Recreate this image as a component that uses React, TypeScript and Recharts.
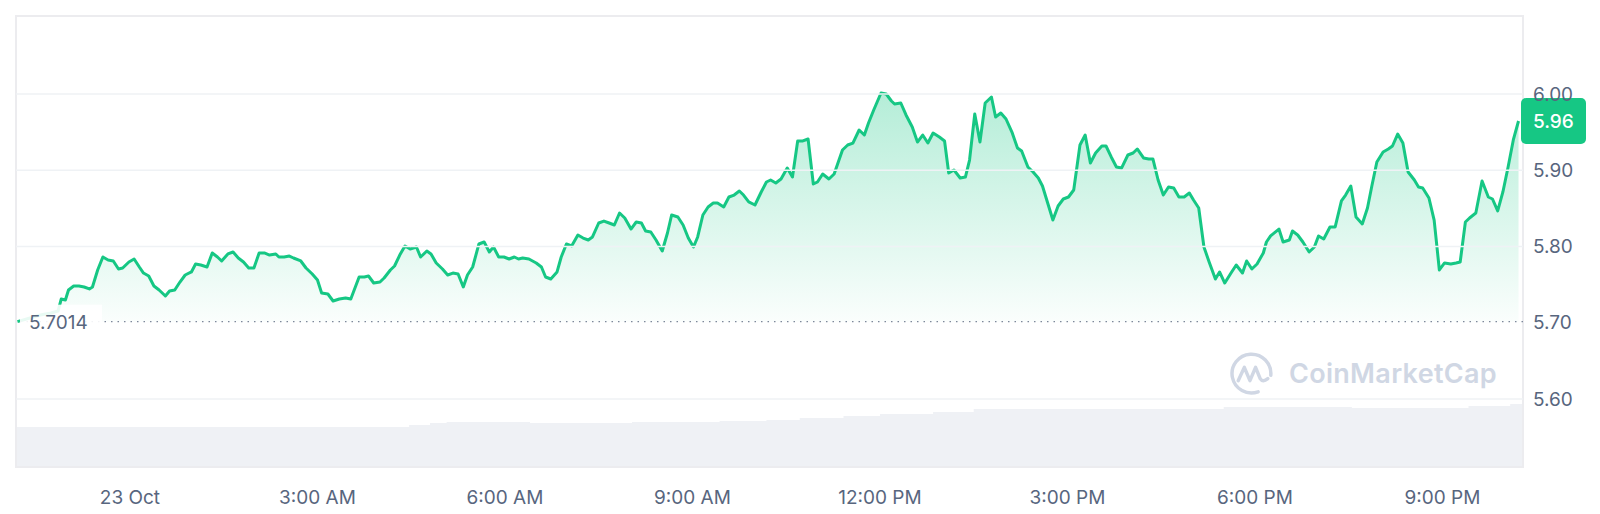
import React from "react";
import { ComposedChart, Area, XAxis, YAxis, ReferenceLine, ReferenceArea } from "recharts";

// [minutes since 23 Oct 00:00, price USD]
const pricePoints: [number, number][] = [
  [-108, 5.7014], [-96, 5.7062], [-86, 5.7102], [-76, 5.7128], [-69, 5.7154], [-66, 5.7311], [-62, 5.7298], [-59, 5.7429], [-54, 5.7482],
  [-49, 5.7482], [-44, 5.7469], [-39, 5.7443], [-36, 5.7469], [-31, 5.7692], [-26, 5.7862], [-21, 5.7823], [-16, 5.781],
  [-11, 5.7705], [-7, 5.7718], [-1, 5.7797], [4, 5.7836], [9, 5.7731], [13, 5.7652], [18, 5.7613], [23, 5.7482],
  [28, 5.7429], [34, 5.7351], [38, 5.7416], [43, 5.7429], [48, 5.7534], [53, 5.7626], [59, 5.7666], [63, 5.777],
  [68, 5.7757], [74, 5.7731], [79, 5.7915], [84, 5.7862], [88, 5.781], [94, 5.7902], [99, 5.7928], [104, 5.7849],
  [109, 5.7797], [114, 5.7718], [119, 5.7718], [124, 5.7915], [129, 5.7915], [134, 5.7888], [140, 5.7902], [143, 5.7862],
  [148, 5.7862], [153, 5.7875], [157, 5.7849], [164, 5.781], [169, 5.7718], [175, 5.7639], [180, 5.7561], [184, 5.739],
  [190, 5.7377], [195, 5.7285], [201, 5.7311], [207, 5.7325], [212, 5.7311], [220, 5.76], [225, 5.76], [229, 5.7613],
  [234, 5.7521], [240, 5.7534], [244, 5.7587], [250, 5.7692], [254, 5.7744], [259, 5.7888], [264, 5.8007], [269, 5.7967],
  [275, 5.7993], [279, 5.7862], [285, 5.7941], [289, 5.7902], [294, 5.7784], [300, 5.7705], [305, 5.7626], [310, 5.7652],
  [315, 5.7639], [320, 5.7469], [324, 5.7626], [329, 5.7731], [335, 5.8033], [340, 5.8059], [345, 5.7928], [349, 5.7993],
  [354, 5.7862], [359, 5.7862], [364, 5.7836], [369, 5.7862], [373, 5.7836], [377, 5.7849], [383, 5.7836], [390, 5.7784],
  [395, 5.7731], [399, 5.76], [404, 5.7574], [410, 5.7666], [414, 5.7862], [419, 5.8033], [424, 5.8007], [430, 5.8151],
  [435, 5.8111], [440, 5.8085], [444, 5.8125], [450, 5.8308], [455, 5.8334], [460, 5.8308], [465, 5.8282], [470, 5.8439],
  [475, 5.8374], [481, 5.8229], [486, 5.8321], [491, 5.8308], [495, 5.8203], [500, 5.819], [505, 5.8085], [511, 5.7941],
  [516, 5.8177], [520, 5.8413], [526, 5.8387], [531, 5.8282], [536, 5.8111], [541, 5.7993], [545, 5.8125], [550, 5.8413],
  [555, 5.8518], [560, 5.857], [564, 5.857], [570, 5.8518], [575, 5.8649], [580, 5.8675], [585, 5.8728], [589, 5.8675],
  [594, 5.8584], [600, 5.8544], [606, 5.8715], [611, 5.8846], [615, 5.8872], [620, 5.8833], [625, 5.8885], [631, 5.903],
  [636, 5.8911], [641, 5.9384], [646, 5.9384], [651, 5.941], [656, 5.882], [660, 5.8846], [665, 5.8951], [671, 5.8885],
  [676, 5.8951], [680, 5.9108], [684, 5.9266], [689, 5.9331], [694, 5.9357], [700, 5.9528], [705, 5.9462], [709, 5.962],
  [714, 5.979], [721, 6.0013], [726, 6.0], [731, 5.9908], [734, 5.9869], [740, 5.9882], [745, 5.9725], [751, 5.9567],
  [756, 5.937], [761, 5.9462], [766, 5.9357], [771, 5.9489], [777, 5.9436], [782, 5.9384], [786, 5.8964], [791, 5.9003],
  [797, 5.8898], [802, 5.8911], [806, 5.9134], [811, 5.9738], [816, 5.937], [821, 5.9882], [827, 5.9961], [831, 5.9698],
  [836, 5.9751], [841, 5.9672], [847, 5.9489], [852, 5.9292], [856, 5.9252], [862, 5.9043], [867, 5.8977], [872, 5.8898],
  [876, 5.8793], [881, 5.857], [886, 5.8347], [891, 5.8531], [896, 5.8623], [901, 5.8649], [906, 5.8741], [912, 5.9331],
  [917, 5.9462], [922, 5.9095], [927, 5.9226], [933, 5.9318], [937, 5.9318], [942, 5.9174], [947, 5.9043], [952, 5.903],
  [958, 5.92], [963, 5.9226], [967, 5.9279], [973, 5.9161], [978, 5.9148], [982, 5.9148], [987, 5.8872], [992, 5.8675],
  [997, 5.878], [1002, 5.8767], [1007, 5.8649], [1012, 5.8649], [1017, 5.8702], [1021, 5.861], [1026, 5.8505], [1031, 5.7993],
  [1036, 5.7797], [1042, 5.7574], [1046, 5.7666], [1051, 5.7521], [1057, 5.7652], [1062, 5.7757], [1068, 5.7652], [1072, 5.781],
  [1077, 5.7705], [1082, 5.777], [1088, 5.7915], [1091, 5.8059], [1095, 5.8138], [1103, 5.8229], [1107, 5.8059], [1113, 5.8085],
  [1116, 5.8203], [1121, 5.8151], [1126, 5.8059], [1132, 5.7928], [1137, 5.7993], [1141, 5.8138], [1146, 5.8098], [1152, 5.8256],
  [1157, 5.8256], [1163, 5.8597], [1167, 5.8675], [1172, 5.8793], [1177, 5.8387], [1183, 5.8295], [1188, 5.8505], [1192, 5.878],
  [1197, 5.9108], [1203, 5.9239], [1208, 5.9279], [1212, 5.9318], [1217, 5.9475], [1222, 5.9357], [1227, 5.8977], [1233, 5.8872],
  [1237, 5.878], [1241, 5.8767], [1247, 5.8636], [1252, 5.8347], [1257, 5.7692], [1262, 5.7784], [1268, 5.777], [1273, 5.7784],
  [1277, 5.7797], [1282, 5.8321], [1286, 5.8374], [1292, 5.8439], [1298, 5.8859], [1304, 5.8649], [1308, 5.8623], [1313, 5.8466],
  [1318, 5.8715], [1323, 5.9043], [1328, 5.9397], [1333, 5.9646],
];

// [minutes since 23 Oct 00:00, 24h volume (M, relative)]
const volumeSteps: [number, number][] = [
  [-109.4, 88.7], [268, 93.1], [288, 97.6], [304, 99.8], [384, 97.6], [482, 99.8], [566, 102.0], [611, 104.2],
  [643, 108.6], [685, 113.1], [720, 117.5], [771, 121.9], [810, 128.6], [1050, 133.0], [1173, 130.8], [1285, 135.2],
  [1325, 139.7], [1337.3, 139.7],
];

const xTickTimes = [0, 180, 360, 540, 720, 900, 1080, 1260];
const xTickLabels = ["23 Oct", "3:00 AM", "6:00 AM", "9:00 AM", "12:00 PM", "3:00 PM", "6:00 PM", "9:00 PM"];
const yTicks = [5.6, 5.7, 5.8, 5.9, 6.0];
const gridValues = [5.6, 5.8, 5.9, 6.0];
const openPrice = 5.7014;
const xDomain: [number, number] = [-109.4, 1337.3];
const yDomain: [number, number] = [5.5108, 6.1023];
const volDomain: [number, number] = [0, 1000];

const GREEN = "#16c784";
const TEXT = "#58667e";
const BORDER = "#eff2f5";
const FONT = "Inter, 'Noto Sans', sans-serif";

const priceData = pricePoints.map(([t, p]) => ({ t, p }));
const volumeData = volumeSteps.map(([t, v]) => ({ t, v }));
const lastPrice = pricePoints[pricePoints.length - 1][1];

const OpenLabel = (props: any) => {
  const vb = props.viewBox || {};
  const x = vb.x ?? 0;
  const y = vb.y ?? 0;
  return (
    <g>
      <rect x={x + 4} y={y - 17} width={82} height={33} fill="#ffffff" fillOpacity={0.9} />
      <text x={x + 13} y={y} dy="0.36em" fill={TEXT} fontSize={19} fontFamily={FONT}>
        {openPrice.toFixed(4)}
      </text>
    </g>
  );
};

const LastLabel = (props: any) => {
  const vb = props.viewBox || {};
  const x = (vb.x ?? 0) + (vb.width ?? 0);
  const y = vb.y ?? 0;
  return (
    <g>
      <rect x={x - 2} y={y - 23} width={65} height={46} rx={5} ry={5} fill={GREEN} />
      <text x={x + 10} y={y} dy="0.36em" fill="#ffffff" fontSize={19} fontWeight={500} fontFamily={FONT}>
        {lastPrice.toFixed(2)}
      </text>
    </g>
  );
};

const Watermark = () => (
  <div
    style={{
      position: "absolute",
      left: 1221,
      top: 344,
      display: "flex",
      alignItems: "center",
      pointerEvents: "none",
      color: "#d0d7e4",
    }}
  >
    <svg width={47} height={43} viewBox="0 0 46 42">
      <path
        d="M 28.5 38.9 A 19 19 0 1 1 40.9 22.7"
        fill="none"
        stroke="#d0d7e4"
        strokeWidth={3.4}
        strokeLinecap="round"
      />
      <path
        d="M 9 28 L 15 15 L 20.5 28 L 26 15 L 30.5 26 Q 33 30 38 26"
        fill="none"
        stroke="#d0d7e4"
        strokeWidth={3.4}
        strokeLinecap="round"
        strokeLinejoin="round"
      />
    </svg>
    <span
      style={{
        marginLeft: 13,
        fontFamily: FONT,
        fontSize: 27,
        fontWeight: 600,
        letterSpacing: 0.3,
      }}
    >
      CoinMarketCap
    </span>
  </div>
);

export default function App() {
  return (
    <div style={{ position: "relative", width: 1584, height: 506, background: "#fff" }}>
      <ComposedChart
        width={1584}
        height={506}
        margin={{ top: 8, right: 0, bottom: 0, left: 8 }}
        style={{ fontFamily: FONT }}
      >
        <defs>
          <linearGradient id="priceFill" x1="0" y1="0" x2="0" y2="1">
            <stop offset="0%" stopColor={GREEN} stopOpacity={0.32} />
            <stop offset="100%" stopColor={GREEN} stopOpacity={0.02} />
          </linearGradient>
        </defs>
        <XAxis
          dataKey="t"
          type="number"
          domain={xDomain}
          allowDataOverflow
          ticks={xTickTimes}
          tickFormatter={(v: number) => xTickLabels[xTickTimes.indexOf(v)] ?? ""}
          axisLine={false}
          tickLine={false}
          tickSize={0}
          tickMargin={24}
          height={47}
          interval={0}
          tick={{ fill: TEXT, fontSize: 19, fontFamily: FONT }}
        />
        <YAxis
          yAxisId="p"
          orientation="right"
          type="number"
          domain={yDomain}
          allowDataOverflow
          ticks={yTicks}
          tickFormatter={(v: number) => v.toFixed(2)}
          axisLine={false}
          tickLine={false}
          tickSize={0}
          tickMargin={10}
          width={69}
          interval={0}
          tick={{ fill: TEXT, fontSize: 19, fontFamily: FONT, textAnchor: "start" }}
        />
        <YAxis yAxisId="v" orientation="left" type="number" domain={volDomain} hide width={0} />
        <Area
          yAxisId="v"
          data={volumeData}
          dataKey="v"
          type="stepAfter"
          stroke="none"
          fill="#eff1f5"
          fillOpacity={1}
          isAnimationActive={false}
          dot={false}
          activeDot={false}
        />
        {gridValues.map((g) => (
          <ReferenceLine key={g} yAxisId="p" y={g} stroke={BORDER} strokeWidth={1.5} />
        ))}
        <ReferenceArea
          yAxisId="p"
          x1={xDomain[0]}
          x2={xDomain[1]}
          y1={yDomain[0]}
          y2={yDomain[1]}
          fill="none"
          fillOpacity={0}
          stroke="#ececef"
          strokeWidth={2}
          ifOverflow="visible"
        />
        <Area
          yAxisId="p"
          data={priceData}
          dataKey="p"
          type="linear"
          baseValue={openPrice}
          stroke={GREEN}
          strokeWidth={3}
          strokeLinejoin="round"
          fill="url(#priceFill)"
          fillOpacity={1}
          isAnimationActive={false}
          dot={false}
          activeDot={false}
        />
        <ReferenceLine
          yAxisId="p"
          y={openPrice}
          stroke="#7d879a"
          strokeWidth={1.4}
          strokeDasharray="1.5 5"
          label={(p: any) => <OpenLabel {...p} />}
        />
        <ReferenceLine
          yAxisId="p"
          y={lastPrice}
          stroke="none"
          strokeOpacity={0}
          label={(p: any) => <LastLabel {...p} />}
        />
      </ComposedChart>
      <Watermark />
    </div>
  );
}
